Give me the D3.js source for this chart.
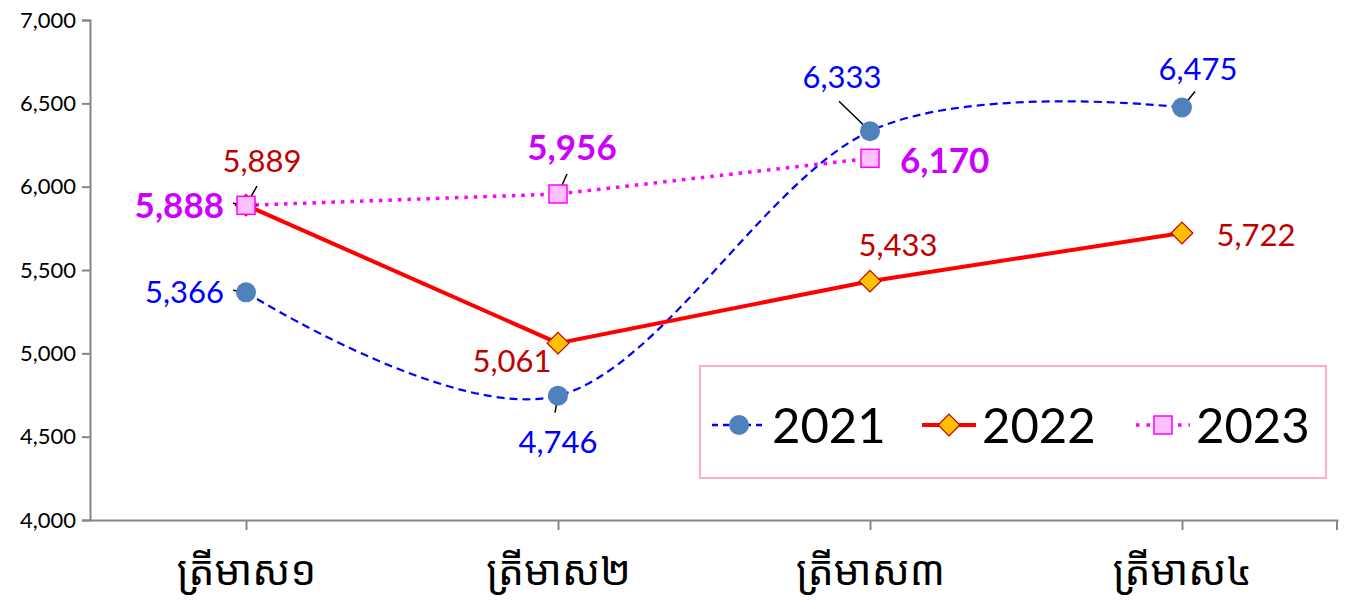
<!DOCTYPE html>
<html>
<head>
<meta charset="utf-8">
<script src="https://cdn.jsdelivr.net/npm/d3@7"></script>
<style>
  body { margin: 0; background: #fff; }
  text { font-family: Lato, "Open Sans", "Noto Sans", sans-serif; }
</style>
</head>
<body>
<div id="chart"></div>
<script>
const quarters = ['ត្រីមាស១', 'ត្រីមាស២', 'ត្រីមាស៣', 'ត្រីមាស៤'];
const years = ['2021', '2022', '2023'];
const values2021 = [5366, 4746, 6333, 6475];
const values2022 = [5889, 5061, 5433, 5722];
const values2023 = [5888, 5956, 6170];
const yTicks = [4000, 4500, 5000, 5500, 6000, 6500, 7000];

const width = 1346;
const height = 609;

// label offset [dx, dy, anchor] and leader line end offset (or null), relative to marker
const labelPos = {
  '2021': [[-22, 0, 'end', [-13, -2]], [0, 46, 'middle', [-3, 17]], [-28, -54, 'middle', [-31, -30]], [16, -38, 'middle', [13, -16]]],
  '2022': [[16, -44, 'middle', [11, -19]], [-46, 18, 'middle', null], [28, -36, 'middle', null], [74, 2, 'middle', null]],
  '2023': [[-22, 0, 'end', [-13, -2]], [14, -46, 'middle', [9, -20]], [30, 2, 'start', null]]
};

const series = [
  { name: '2021', values: values2021, line: '#0000ff', width: 2.2, dash: '8,5', curve: d3.curveCardinal.tension(0), label: '#0000ff', weight: 'normal', marker: 'circle' },
  { name: '2022', values: values2022, line: '#ff0000', width: 4, dash: null, curve: d3.curveLinear, label: '#c00000', weight: 'normal', marker: 'diamond' },
  { name: '2023', values: values2023, line: '#ff00ff', width: 3.5, dash: '3.5,6', curve: d3.curveLinear, label: '#cc00ff', weight: 'bold', marker: 'square' }
];

const svg = d3.select('#chart').append('svg')
  .attr('width', width)
  .attr('height', height);

const x = d3.scalePoint()
  .domain(quarters)
  .range([90, 1338])
  .padding(0.5);

const y = d3.scaleLinear()
  .domain([4000, 7000])
  .range([520, 20]);

// y axis
const yAxis = svg.append('g')
  .attr('transform', 'translate(90,0)')
  .call(d3.axisLeft(y).tickValues(yTicks).tickSize(8).tickPadding(6).tickFormat(d3.format(',')));
yAxis.select('.domain').attr('stroke', '#868686').attr('stroke-width', 2);
yAxis.selectAll('.tick line').attr('stroke', '#868686').attr('stroke-width', 2);
yAxis.selectAll('.tick text').attr('font-size', 22).attr('fill', '#000').style('font-family', 'Lato, "Open Sans", sans-serif');

// x axis
const xAxis = svg.append('g')
  .attr('transform', 'translate(0,520)')
  .call(d3.axisBottom(x).tickSize(10).tickSizeOuter(0).tickPadding(20));
xAxis.select('.domain').attr('stroke', '#868686').attr('stroke-width', 2);
xAxis.selectAll('.tick line').attr('stroke', '#868686').attr('stroke-width', 2);
xAxis.selectAll('.tick text').attr('font-size', 41).attr('fill', '#000').attr('dy', '0.85em')
  .style('font-family', '"Noto Sans Khmer", "Khmer OS", "Noto Sans", sans-serif');
xAxis.append('line')
  .attr('x1', 1337).attr('x2', 1337).attr('y1', 0).attr('y2', 10)
  .attr('stroke', '#868686').attr('stroke-width', 2);

function drawMarker(g, type, cx, cy) {
  if (type === 'circle') {
    g.append('circle').attr('cx', cx).attr('cy', cy).attr('r', 10).attr('fill', '#4f81bd');
  } else if (type === 'diamond') {
    g.append('path')
      .attr('d', d3.symbol().type(d3.symbolDiamond2).size(300)())
      .attr('transform', `translate(${cx},${cy})`)
      .attr('fill', '#ffc000').attr('stroke', '#c00000').attr('stroke-width', 1.2);
  } else {
    g.append('rect').attr('x', cx - 9).attr('y', cy - 9).attr('width', 18).attr('height', 18)
      .attr('fill', '#ffc0ff').attr('stroke', '#ff00ff').attr('stroke-width', 1.5);
  }
}

series.forEach(s => {
  const pts = s.values.map((v, i) => [x(quarters[i]), y(v)]);
  svg.append('path')
    .datum(pts)
    .attr('fill', 'none')
    .attr('stroke', s.line)
    .attr('stroke-width', s.width)
    .attr('stroke-dasharray', s.dash)
    .attr('d', d3.line().curve(s.curve));
});

series.forEach(s => {
  const g = svg.append('g');
  s.values.forEach((v, i) => {
    const px = x(quarters[i]);
    const py = y(v);
    const lead = labelPos[s.name][i][3];
    if (lead) {
      g.append('line').attr('x1', px).attr('y1', py).attr('x2', px + lead[0]).attr('y2', py + lead[1])
        .attr('stroke', '#000').attr('stroke-width', 1.5);
    }
    drawMarker(g, s.marker, px, py);
  });
});

// data labels on top
series.forEach(s => {
  s.values.forEach((v, i) => {
    const px = x(quarters[i]);
    const py = y(v);
    const lp = labelPos[s.name][i];
    svg.append('text')
      .attr('x', px + lp[0])
      .attr('y', py + lp[1])
      .attr('dy', '0.35em')
      .attr('text-anchor', lp[2])
      .attr('font-size', s.weight === 'bold' ? 35 : 31)
      .attr('font-weight', s.weight)
      .attr('fill', s.label)
      .text(d3.format(',')(v));
  });
});

// legend
const legend = svg.append('g');
legend.append('rect')
  .attr('x', 700).attr('y', 366).attr('width', 626).attr('height', 112)
  .attr('fill', '#fff').attr('stroke', '#ffaac8').attr('stroke-width', 2);
const legendX = [712, 922, 1136];
series.forEach((s, i) => {
  const lx = legendX[i];
  const ly = 425;
  legend.append('line')
    .attr('x1', lx).attr('x2', lx + 54).attr('y1', ly).attr('y2', ly)
    .attr('stroke', s.line).attr('stroke-width', s.name === '2021' ? 2.5 : s.width)
    .attr('stroke-dasharray', s.name === '2021' ? '6,5' : s.name === '2023' ? '3.5,7' : null);
  drawMarker(legend, s.marker, lx + 27, ly);
  legend.append('text')
    .attr('x', lx + 60).attr('y', ly)
    .attr('dy', '0.36em')
    .attr('font-size', 49)
    .attr('fill', '#000')
    .text(years[i]);
});
</script>
</body>
</html>
